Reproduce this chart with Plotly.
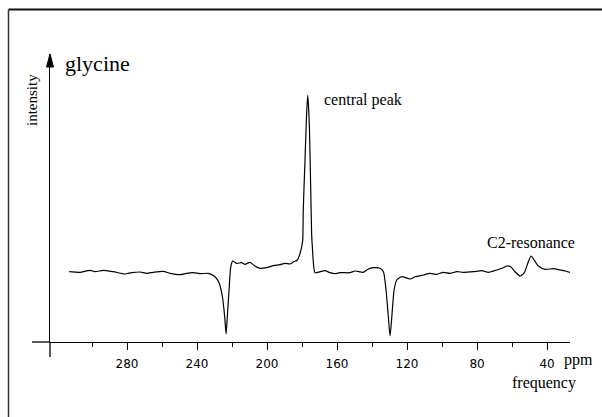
import plotly.graph_objects as go

# Spectrum: chemical shift (ppm) and intensity (arb. units, baseline ~ 0)
ppm = [313.0, 306.9, 301.1, 298.3, 293.5, 287.8, 281.1, 277.3, 272.6, 268.7,
       265.0, 259.3, 255.4, 249.7, 245.9, 242.1, 238.3, 233.5, 229.7, 227.3,
       225.5, 224.2, 223.4, 222.7, 221.7, 220.7, 219.6, 217.3, 214.5, 212.6,
       209.7, 206.9, 204.0, 200.2, 196.4, 192.6, 189.7, 186.9, 185.0, 182.7,
       181.1, 180.2, 179.6, 179.3, 178.3, 177.3, 176.7, 175.8, 175.0, 174.5,
       174.0, 173.5, 172.6, 169.7, 166.9, 164.0, 161.1, 158.3, 152.6, 149.7,
       145.0, 142.1, 139.3, 135.4, 133.5, 132.0, 130.7, 129.7, 128.7, 127.4,
       125.9, 123.0, 118.3, 115.4, 110.7, 106.9, 103.0, 99.3, 95.4, 91.6,
       87.8, 82.1, 77.3, 73.5, 68.7, 65.0, 63.0, 60.8, 58.3, 55.4,
       53.0, 50.7, 49.1, 47.4, 45.0, 41.1, 36.4, 32.6, 29.7, 26.9]
intensity = [-0.7, -1.3, 0.7, -0.7, 0.7, -0.7, -3.0, -1.7, -1.0, -2.3,
             -1.3, -0.3, -2.3, -3.7, -2.3, -1.7, -2.7, -2.3, -5.7, -12.3,
             -25.7, -45.7, -63.0, -45.7, -19.0, 4.3, 10.0, 7.7, 8.3, 6.7,
             8.7, 5.0, 2.7, 3.3, 5.3, 6.3, 7.7, 7.0, 9.0, 11.0,
             17.7, 24.3, 31.0, 61.0, 111.0, 161.0, 176.0, 144.3, 78.0, 36.0,
             21.0, 8.0, -1.7, -0.7, 0.3, -1.7, -2.7, -1.7, -1.7, 0.0,
             -1.3, 2.0, 3.3, 2.7, -0.7, -19.0, -45.7, -65.0, -45.7, -19.0,
             -9.0, -5.7, -8.0, -5.7, -4.0, -2.3, -3.3, -1.3, -2.3, -0.7,
             -1.3, -0.7, 0.3, -1.3, 1.0, 3.3, 5.0, 4.3, -0.7, -5.0,
             -1.7, 9.3, 15.0, 11.0, 5.0, 1.7, 2.3, 1.0, 0.0, -1.3]

tick_vals = [280, 240, 200, 160, 120, 80, 40]
tick_text = ["280", "240", "200", "160", "120", "80", "40"]
minor_vals = [300, 260, 220, 180, 140, 100, 60]

serif = "Liberation Serif, Times New Roman, serif"

fig = go.Figure()
fig.add_trace(go.Scatter(x=ppm, y=intensity, mode="lines",
                         line=dict(color="black", width=1.2, shape="spline", smoothing=0.6),
                         hoverinfo="skip", showlegend=False))

fig.update_layout(
    width=602, height=417,
    margin=dict(l=50, r=32, t=54, b=75),
    paper_bgcolor="white", plot_bgcolor="white",
    xaxis=dict(range=[324.0, 26.9], showline=True, linecolor="black", linewidth=1.3,
               showgrid=False, zeroline=False, ticks="outside", ticklen=7, tickwidth=1.3,
               tickcolor="black", tickvals=tick_vals, ticktext=tick_text,
               ticklabelstandoff=3,
               tickfont=dict(family="DejaVu Sans, Arial, sans-serif", size=12, color="black"),
               minor=dict(tickvals=minor_vals, ticks="outside", ticklen=4, tickwidth=1.2,
                          tickcolor="black", showgrid=False)),
    yaxis=dict(range=[-71, 217], showline=True, linecolor="black", linewidth=1.3,
               showgrid=False, zeroline=False, ticks="", showticklabels=False),
)

def px(xp):
    return (xp - 50) / 520.0

def py(yp):
    return (342 - yp) / 288.0

shapes = [
    dict(type="line", xref="paper", yref="paper", x0=px(32), x1=px(50), y0=0, y1=0,
         line=dict(color="black", width=1.3)),
    dict(type="line", xref="paper", yref="paper", x0=0, x1=0, y0=py(357), y1=0,
         line=dict(color="black", width=1.3)),
    dict(type="path", xref="paper", yref="paper",
         path=f"M {px(50)} {py(54)} L {px(46.5)} {py(67)} L {px(53.5)} {py(67)} Z",
         fillcolor="black", line=dict(color="black", width=1)),
    dict(type="line", xref="paper", yref="paper", x0=px(8.5), x1=px(602), y0=py(9.5), y1=py(9.5),
         line=dict(color="#111111", width=2)),
    dict(type="line", xref="paper", yref="paper", x0=px(8.5), x1=px(8.5), y0=py(9.5), y1=py(417),
         line=dict(color="#333333", width=1.5)),
]
fig.update_layout(shapes=shapes)

ann = [
    dict(text="glycine", x=px(63), y=py(63), xanchor="left", yanchor="middle", size=22, angle=0),
    dict(text="intensity", x=px(32), y=py(100), xanchor="center", yanchor="middle", size=15, angle=-90),
    dict(text="central peak", x=px(322), y=py(100), xanchor="left", yanchor="middle", size=16, angle=0),
    dict(text="C2-resonance", x=px(485), y=py(242), xanchor="left", yanchor="middle", size=16, angle=0),
    dict(text="ppm", x=px(562), y=py(360), xanchor="left", yanchor="middle", size=16, angle=0),
    dict(text="frequency", x=px(510), y=py(383), xanchor="left", yanchor="middle", size=16, angle=0),
]
for a in ann:
    fig.add_annotation(text=a["text"], x=a["x"], y=a["y"], xref="paper", yref="paper",
                       xanchor=a["xanchor"], yanchor=a["yanchor"], textangle=a["angle"],
                       showarrow=False, font=dict(family=serif, size=a["size"], color="black"))

fig.write_html("out.html")
